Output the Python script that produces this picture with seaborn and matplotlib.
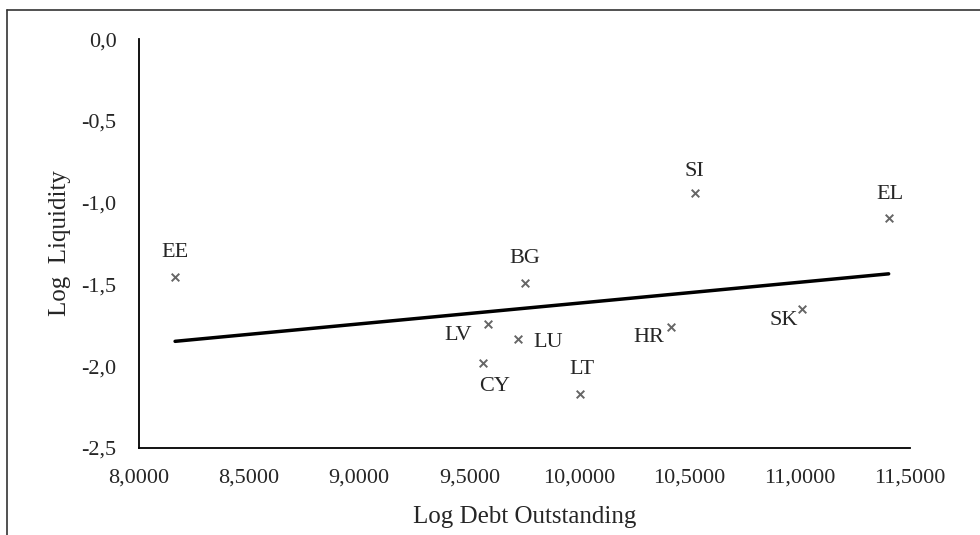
import numpy as np
import pandas as pd
import matplotlib.pyplot as plt
import seaborn as sns
from matplotlib.lines import Line2D
from matplotlib.ticker import FuncFormatter

# values
countries = ["EE", "BG", "LV", "LU", "CY", "LT", "SI", "EL", "SK", "HR"]
log_debt = [8.164, 9.752, 9.583, 9.722, 9.563, 10.000, 10.523, 11.403, 11.011, 10.417]
log_liq = [-1.455, -1.491, -1.744, -1.832, -1.979, -2.170, -0.943, -1.096, -1.650, -1.762]

# where each label sits relative to its marker (points)
label_pos = {
    "EE": (0, 11, "center", "bottom"),
    "BG": (0, 11, "center", "bottom"),
    "LV": (-11, -8, "right", "center"),
    "LU": (11, -3, "left", "center"),
    "CY": (8, -10, "center", "top"),
    "LT": (2, 11, "center", "bottom"),
    "SI": (0, 9, "center", "bottom"),
    "EL": (1, 10, "center", "bottom"),
    "SK": (-3, -8, "right", "center"),
    "HR": (-5, -7, "right", "center"),
}

df = pd.DataFrame({"country": countries, "debt": log_debt, "liq": log_liq})

sns.set_style("white")
plt.rcParams["font.family"] = ["Liberation Serif", "DejaVu Serif"]
plt.rcParams["font.size"] = 16

fig = plt.figure(figsize=(9.8, 5.35), dpi=100)
ax = fig.add_axes([0.1418, 0.1626, 0.7868, 0.7644])

sns.regplot(data=df, x="debt", y="liq", ax=ax, ci=None, truncate=True,
            marker="x",
            scatter_kws={"color": "#404040", "s": 30, "linewidths": 1.4, "zorder": 3},
            line_kws={"color": "black", "linewidth": 2.5, "zorder": 2})

for _, r in df.iterrows():
    dx, dy, ha, va = label_pos[r["country"]]
    ax.annotate(r["country"], (r["debt"], r["liq"]), xytext=(dx, dy),
                textcoords="offset points", ha=ha, va=va, fontsize=16,
                color="#262626")

ax.set_xlim(8.0, 11.5)
ax.set_ylim(-2.5, 0.0)
ax.set_xticks(np.arange(8.0, 11.51, 0.5))
ax.set_yticks(np.arange(-2.5, 0.01, 0.5))
ax.xaxis.set_major_formatter(FuncFormatter(lambda v, p: f"{v:.4f}".replace(".", ",")))
ax.yaxis.set_major_formatter(FuncFormatter(lambda v, p: f"{v:.1f}".replace(".", ",")))
ax.tick_params(length=0, labelsize=16, colors="#262626")
ax.tick_params(axis="x", pad=15)
ax.tick_params(axis="y", pad=16)

ax.set_xlabel("Log Debt Outstanding", fontsize=18, color="#262626", labelpad=13)
ax.set_ylabel("Log  Liquidity", fontsize=18, color="#262626", labelpad=8)

for s in ["top", "right"]:
    ax.spines[s].set_visible(False)
for s in ["left", "bottom"]:
    ax.spines[s].set_color("black")
    ax.spines[s].set_linewidth(1.3)

# frame of the cropped picture: only top and left edges show
top_y = 1 - 10 / 535
left_x = 7 / 980
fig.add_artist(Line2D([left_x, 1.0], [top_y, top_y], transform=fig.transFigure,
                      color="#333333", linewidth=1.2))
fig.add_artist(Line2D([left_x, left_x], [0.0, top_y], transform=fig.transFigure,
                      color="#333333", linewidth=1.2))

fig.savefig("out.png", dpi=100)
